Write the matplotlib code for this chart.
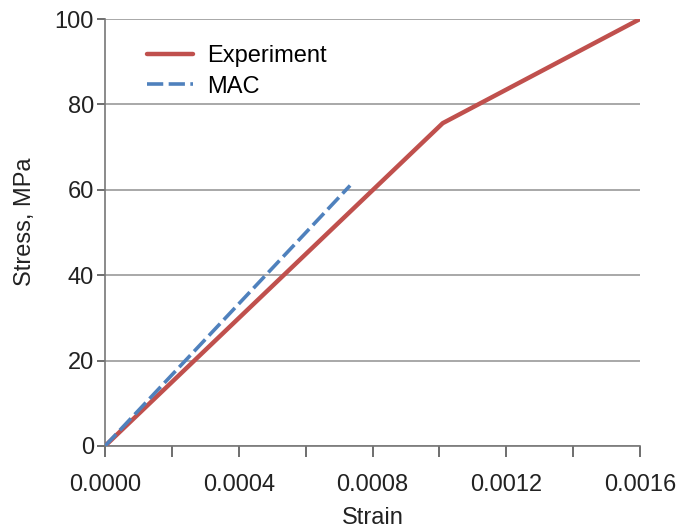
import numpy as np
import matplotlib.pyplot as plt
from matplotlib.ticker import MultipleLocator

plt.rcParams['font.family'] = ['Liberation Sans', 'DejaVu Sans']

# experiment curve (strain, stress in MPa)
exp_strain = [0.0, 0.00101, 0.0016]
exp_stress = [0.0, 75.6, 100.0]

# MAC prediction
mac_strain = [0.0, 0.000733]
mac_stress = [0.0, 61.0]

fig = plt.figure(figsize=(6.83, 5.31), dpi=100)
ax = fig.add_axes([105/683, 85/531, 535/683, 427/531])

ax.plot(exp_strain, exp_stress, color='#C0504D', linewidth=3.2, label='Experiment',
        solid_capstyle='round', zorder=3)
ax.plot(mac_strain, mac_stress, color='#4F81BD', linewidth=2.6, linestyle=(0, (4.5, 1.5)),
        label='MAC', zorder=4)

ax.set_xlim(0, 0.0016)
ax.set_ylim(0, 100)
ax.xaxis.set_major_locator(MultipleLocator(0.0004))
ax.xaxis.set_minor_locator(MultipleLocator(0.0002))
ax.yaxis.set_major_locator(MultipleLocator(20))
ax.xaxis.set_major_formatter(plt.FuncFormatter(lambda v, p: '%.4f' % v))

ax.grid(axis='y', color='#9a9a9a', linewidth=1.2)
ax.set_axisbelow(True)
for s in ['top', 'right']:
    ax.spines[s].set_visible(False)
for s in ['left', 'bottom']:
    ax.spines[s].set_color('#777777')
    ax.spines[s].set_linewidth(1.2)

ax.tick_params(axis='both', which='both', direction='out', color='#555555', width=1.2,
               labelsize=17, labelcolor='#222222')
ax.tick_params(axis='x', which='both', length=8, pad=12)
ax.tick_params(axis='y', length=6, pad=2)

ax.set_xlabel('Strain', fontsize=17, color='#222222')
ax.set_ylabel('Stress, MPa', fontsize=17, color='#222222')
ax.xaxis.set_label_coords(0.5, -0.142)
ax.yaxis.set_label_coords(-0.129, 0.525)

ax.legend(loc='upper left', bbox_to_anchor=(0.078, 0.938), frameon=False, fontsize=17,
          borderpad=0, borderaxespad=0, handlelength=1.95, handletextpad=0.6,
          labelspacing=0.35)

fig.savefig('out.png', dpi=100)
